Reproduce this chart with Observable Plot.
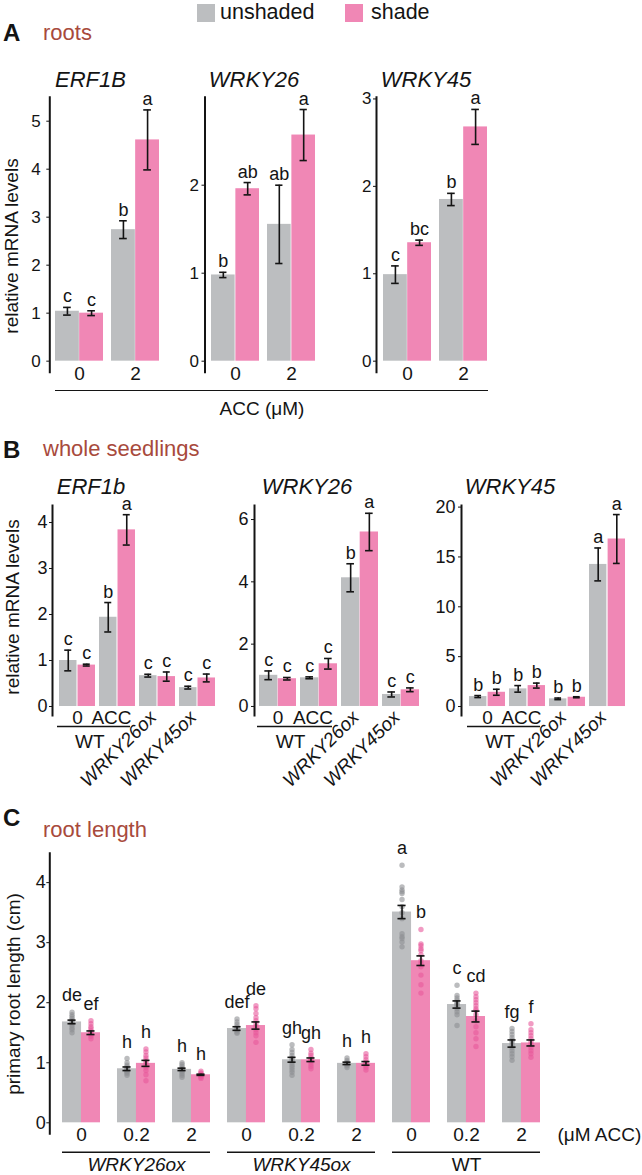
<!DOCTYPE html>
<html><head><meta charset="utf-8">
<script src="https://cdn.jsdelivr.net/npm/d3@7"></script>
<script src="https://cdn.jsdelivr.net/npm/@observablehq/plot@0.6"></script>
<style>
body{margin:0;background:#fff;}
#fig{position:relative;width:642px;height:1175px;font-family:"Liberation Sans",Arial,Helvetica,sans-serif;color:#141414;overflow:hidden;background:#fff;}
.abs{position:absolute;white-space:nowrap;}
</style></head><body><div id="fig"></div>
<script>
// ---------- colours ----------
const GREY = "#bcbec0", PINK = "#f087b5", BROWN = "#a84a3c", DOTG = "#8e9092", DOTP = "#e8589b", INK = "#141414";
const FONT = '"Liberation Sans", Arial, Helvetica, sans-serif';

// ---------- Panel A : roots ----------
const aDoses = ["0", "2"];
const aERF1B_unshaded = [1.04, 2.74], aERF1B_unshadedSE = [0.08, 0.185];
const aERF1B_shade = [1.00, 4.61], aERF1B_shadeSE = [0.05, 0.625];
const aERF1B_lettersU = ["c", "b"], aERF1B_lettersS = ["c", "a"];
const aWRKY26_unshaded = [0.98, 1.555], aWRKY26_unshadedSE = [0.03, 0.445];
const aWRKY26_shade = [1.96, 2.57], aWRKY26_shadeSE = [0.07, 0.29];
const aWRKY26_lettersU = ["b", "ab"], aWRKY26_lettersS = ["ab", "a"];
const aWRKY45_unshaded = [0.99, 1.85], aWRKY45_unshadedSE = [0.10, 0.07];
const aWRKY45_shade = [1.355, 2.68], aWRKY45_shadeSE = [0.03, 0.20];
const aWRKY45_lettersU = ["c", "b"], aWRKY45_lettersS = ["bc", "a"];

// ---------- Panel B : whole seedlings ----------
const bGroups = ["WT 0", "WT ACC", "WRKY26ox", "WRKY45ox"];
const bERF1b_unshaded = [1.00, 1.94, 0.67, 0.41], bERF1b_unshadedSE = [0.225, 0.32, 0.03, 0.03];
const bERF1b_shade = [0.90, 3.84, 0.65, 0.62], bERF1b_shadeSE = [0.02, 0.33, 0.10, 0.085];
const bERF1b_lettersU = ["c", "b", "c", "c"], bERF1b_lettersS = ["c", "a", "c", "c"];
const bWRKY26_unshaded = [1.00, 0.92, 4.13, 0.385], bWRKY26_unshadedSE = [0.14, 0.03, 0.45, 0.08];
const bWRKY26_shade = [0.89, 1.37, 5.60, 0.535], bWRKY26_shadeSE = [0.04, 0.17, 0.60, 0.06];
const bWRKY26_lettersU = ["c", "c", "b", "c"], bWRKY26_lettersS = ["c", "c", "a", "c"];
const bWRKY45_unshaded = [1.00, 1.77, 0.77, 14.25], bWRKY45_unshadedSE = [0.10, 0.33, 0.08, 1.65];
const bWRKY45_shade = [1.43, 2.10, 0.93, 16.8], bWRKY45_shadeSE = [0.30, 0.25, 0.05, 2.45];
const bWRKY45_lettersU = ["b", "b", "b", "a"], bWRKY45_lettersS = ["b", "b", "b", "a"];

// ---------- Panel C : root length ----------
const cGenotypes = ["WRKY26ox", "WRKY45ox", "WT"];
const cDoses = ["0", "0.2", "2"];
const cUnshaded = [1.68, 0.90, 0.89, 1.57, 1.05, 0.99, 3.51, 1.97, 1.32];
const cUnshadedSE = [0.03, 0.03, 0.02, 0.03, 0.04, 0.02, 0.11, 0.06, 0.06];
const cShade = [1.50, 0.99, 0.80, 1.62, 1.05, 0.99, 2.70, 1.77, 1.33];
const cShadeSE = [0.03, 0.05, 0.01, 0.06, 0.03, 0.03, 0.08, 0.09, 0.05];
const cLettersU = ["de", "h", "h", "def", "gh", "h", "a", "c", "fg"];
const cLettersS = ["ef", "h", "h", "de", "gh", "h", "b", "cd", "f"];
const cDotsUnshaded = [
  [1.84, 1.80, 1.77, 1.74, 1.71, 1.68, 1.65, 1.62, 1.58, 1.55, 1.50],
  [1.07, 1.00, 0.96, 0.93, 0.90, 0.88, 0.86, 0.84, 0.82, 0.79],
  [1.00, 0.97, 0.94, 0.91, 0.89, 0.87, 0.85, 0.82, 0.79, 0.76],
  [1.73, 1.68, 1.64, 1.60, 1.57, 1.54, 1.51, 1.49],
  [1.30, 1.22, 1.17, 1.12, 1.08, 1.04, 1.00, 0.96, 0.92, 0.88, 0.84, 0.79],
  [1.08, 1.04, 1.01, 0.99, 0.97, 0.95, 0.92],
  [4.29, 3.93, 3.88, 3.85, 3.82, 3.72, 3.60, 3.50, 3.40, 3.15, 3.10, 3.07, 3.01, 2.93],
  [2.29, 2.12, 2.08, 2.04, 2.00, 1.98, 1.95, 1.90, 1.85, 1.80, 1.62],
  [1.57, 1.52, 1.47, 1.42, 1.38, 1.35, 1.30, 1.25, 1.20, 1.15, 1.10, 1.04]
];
const cDotsShade = [
  [1.70, 1.65, 1.60, 1.57, 1.53, 1.50, 1.47, 1.44, 1.40],
  [1.23, 1.18, 1.12, 1.08, 1.04, 1.00, 0.96, 0.92, 0.87, 0.80, 0.70],
  [0.86, 0.83, 0.81, 0.79, 0.78, 0.76, 0.74],
  [1.95, 1.90, 1.82, 1.75, 1.70, 1.65, 1.60, 1.55, 1.50, 1.45, 1.34],
  [1.22, 1.16, 1.12, 1.08, 1.05, 1.02, 0.98, 0.94, 0.90],
  [1.15, 1.10, 1.05, 1.01, 0.98, 0.95, 0.92, 0.88],
  [3.22, 2.98, 2.95, 2.90, 2.87, 2.80, 2.70, 2.65, 2.60, 2.46, 2.30, 2.16],
  [2.16, 2.10, 2.05, 2.00, 1.95, 1.90, 1.87, 1.80, 1.70, 1.60, 1.50, 1.40, 1.27],
  [1.65, 1.55, 1.50, 1.45, 1.40, 1.35, 1.30, 1.25, 1.20, 1.15, 1.09]
];

// ---------- helpers ----------
const fig = document.getElementById("fig");
function txt(s, o) {
  const d = document.createElement("div");
  d.className = "abs";
  d.textContent = s;
  d.style.fontSize = o.size + "px";
  d.style.lineHeight = o.size + "px";
  d.style.top = (o.y - 0.8465 * o.size) + "px";
  d.style.left = o.x + "px";
  if (o.anchor === "middle") d.style.transform = "translateX(-50%)";
  if (o.italic) d.style.fontStyle = "italic";
  if (o.bold) d.style.fontWeight = "bold";
  if (o.color) d.style.color = o.color;
  fig.appendChild(d);
}
function vtxt(s, cx, cy, size) {
  const d = document.createElement("div");
  d.className = "abs";
  d.textContent = s;
  d.style.fontSize = size + "px";
  d.style.lineHeight = size + "px";
  d.style.left = cx + "px";
  d.style.top = cy + "px";
  d.style.transform = "translate(-50%,-50%) rotate(-90deg)";
  fig.appendChild(d);
}
function box(x, y, w, h, color) {
  const d = document.createElement("div");
  d.className = "abs";
  Object.assign(d.style, {left: x + "px", top: y + "px", width: w + "px", height: h + "px", background: color});
  fig.appendChild(d);
}
function hline(x, y, w) {
  const d = document.createElement("div");
  d.className = "abs";
  Object.assign(d.style, {left: x + "px", top: y + "px", width: w + "px", height: "0px", borderTop: "1.6px solid " + INK});
  fig.appendChild(d);
}
function table(groups, u, use, ul, s, sse, sl, dotsU, dotsS) {
  const rows = [], dots = [];
  groups.forEach((g, i) => {
    const du = dotsU ? dotsU[i] : [], ds = dotsS ? dotsS[i] : [];
    du.forEach(v => dots.push({g, s: "unshaded", v}));
    ds.forEach(v => dots.push({g, s: "shade", v}));
    rows.push({g, s: "unshaded", v: u[i], se: use[i], lab: ul[i], top: Math.max(u[i] + use[i], ...du)});
    rows.push({g, s: "shade", v: s[i], se: sse[i], lab: sl[i], top: Math.max(s[i] + sse[i], ...ds)});
  });
  return {rows, dots};
}

function subplot(row, cfg) {
  const band = d3.scaleBand().domain(cfg.groups).range(cfg.range).paddingInner(cfg.pad).paddingOuter(0);
  const bw = band.bandwidth(), step = band.step();
  const U = cfg.data.rows.filter(d => d.s === "unshaded"), S = cfg.data.rows.filter(d => d.s === "shade");
  const off = bw / 4, cap = 4, sw = 1.6;
  const marks = [
    Plot.barY(U, {x: "g", y: "v", fill: GREY, insetRight: bw / 2}),
    Plot.barY(S, {x: "g", y: "v", fill: PINK, insetLeft: bw / 2})
  ];
  if (cfg.data.dots.length) {
    marks.push(Plot.dot(cfg.data.dots.filter(d => d.s === "unshaded"), {x: "g", y: "v", r: 2.7, fill: DOTG, fillOpacity: 0.6, dx: -off}));
    marks.push(Plot.dot(cfg.data.dots.filter(d => d.s === "shade"), {x: "g", y: "v", r: 2.7, fill: DOTP, fillOpacity: 0.6, dx: off}));
  }
  for (const [D, sign] of [[U, -1], [S, 1]]) {
    const il = sign < 0 ? off - cap : 3 * off - cap;
    const ir = sign < 0 ? 3 * off - cap : off - cap;
    marks.push(
      Plot.ruleX(D, {x: "g", y1: d => d.v - d.se, y2: d => d.v + d.se, dx: sign * off, stroke: INK, strokeWidth: sw}),
      Plot.tickY(D, {x: "g", y: d => d.v + d.se, insetLeft: il, insetRight: ir, stroke: INK, strokeWidth: sw}),
      Plot.tickY(D, {x: "g", y: d => d.v - d.se, insetLeft: il, insetRight: ir, stroke: INK, strokeWidth: sw}),
      Plot.text(D, {x: "g", y: "top", text: "lab", dx: sign * off, dy: -cfg.letterGap, lineAnchor: "bottom", fontSize: cfg.letterFont, fill: INK})
    );
  }
  marks.push(Plot.frame({anchor: "left", stroke: INK, strokeWidth: 2}));
  marks.push(Plot.axisY(cfg.yTicks, {tickSize: 3, tickPadding: cfg.tickPad, tickFormat: d => String(d), fontSize: cfg.tickFont, label: null, stroke: INK, fill: INK}));
  if (cfg.extra) marks.push(...cfg.extra(bw, step));
  const svg = Plot.plot({
    width: 642, height: row.height,
    marginLeft: cfg.axisX, marginRight: 642 - cfg.range[1],
    marginTop: cfg.top - row.top, marginBottom: row.top + row.height - cfg.bottom,
    x: {type: "band", domain: cfg.groups, range: cfg.range, paddingInner: cfg.pad, paddingOuter: 0, axis: null},
    y: {domain: cfg.yDomain},
    style: {background: "transparent", overflow: "visible", fontFamily: FONT, fontSize: "17px", color: INK,
            position: "absolute", left: "0px", top: row.top + "px", maxWidth: "none"},
    marks
  });
  fig.appendChild(svg);
}

// ---------- legend & headers ----------
box(197, 4, 18, 18, GREY); txt("unshaded", {x: 220, y: 20.5, size: 21.5});
box(345, 4, 18, 18, PINK); txt("shade", {x: 371, y: 20.5, size: 21.5});
txt("A", {x: 3, y: 41.5, size: 24, bold: true}); txt("roots", {x: 43, y: 40.5, size: 22, color: BROWN});
txt("B", {x: 3, y: 458, size: 24, bold: true}); txt("whole seedlings", {x: 43, y: 457, size: 22, color: BROWN});
txt("C", {x: 3, y: 826.5, size: 24, bold: true}); txt("root length", {x: 43, y: 838, size: 22, color: BROWN});

// ---------- Panel A ----------
const rowA = {top: 85, height: 330};
const aTitles = [["ERF1B", 90.5], ["WRKY26", 254], ["WRKY45", 426]];
aTitles.forEach(([t, x]) => txt(t, {x, y: 87.3, size: 22, italic: true, anchor: "middle"}));
const aX = () => [Plot.text(aDoses, {x: d => d, text: d => d, frameAnchor: "bottom", lineAnchor: "middle", dy: 2, fontSize: 19, fill: INK})];
subplot(rowA, {groups: aDoses, range: [55.3, 159.8], pad: 0.14, axisX: 49.3, top: 96.7, bottom: 371.7,
  yDomain: [-0.23, 5.5], yTicks: [0, 1, 2, 3, 4, 5], tickPad: 6, tickFont: 17, letterFont: 18, letterGap: 5,
  data: table(aDoses, aERF1B_unshaded, aERF1B_unshadedSE, aERF1B_lettersU, aERF1B_shade, aERF1B_shadeSE, aERF1B_lettersS), extra: aX});
subplot(rowA, {groups: aDoses, range: [210.2, 315.6], pad: 0.14, axisX: 204.5, top: 96.7, bottom: 371.7,
  yDomain: [-0.125, 3.0], yTicks: [0, 1, 2], tickPad: 3, tickFont: 17, letterFont: 18, letterGap: 5,
  data: table(aDoses, aWRKY26_unshaded, aWRKY26_unshadedSE, aWRKY26_lettersU, aWRKY26_shade, aWRKY26_shadeSE, aWRKY26_lettersS), extra: aX});
subplot(rowA, {groups: aDoses, range: [382.4, 487], pad: 0.14, axisX: 376, top: 96.7, bottom: 371.7,
  yDomain: [-0.126, 3.02], yTicks: [0, 1, 2, 3], tickPad: 2, tickFont: 17, letterFont: 18, letterGap: 5,
  data: table(aDoses, aWRKY45_unshaded, aWRKY45_unshadedSE, aWRKY45_lettersU, aWRKY45_shade, aWRKY45_shadeSE, aWRKY45_lettersS), extra: aX});
hline(55, 390, 433);
txt("ACC (μM)", {x: 262, y: 415, size: 19, anchor: "middle"});
vtxt("relative mRNA levels", 11, 246, 19);

// ---------- Panel B ----------
const rowB = {top: 495, height: 300};
[["ERF1b", 91], ["WRKY26", 307], ["WRKY45", 510]].forEach(([t, x]) => txt(t, {x, y: 495, size: 22, italic: true, anchor: "middle"}));
const bX = (lo) => (bw, step) => [
  Plot.text(["0"], {x: () => "WT 0", text: d => d, frameAnchor: "bottom", lineAnchor: "bottom", dy: 8, fontSize: 19, fill: INK}),
  Plot.text(["ACC"], {x: () => "WT ACC", text: d => d, frameAnchor: "bottom", lineAnchor: "bottom", dy: 8, dx: -6, fontSize: 19, fill: INK}),
  Plot.ruleY([lo], {x1: () => "WT 0", x2: () => "WT ACC", dy: 11, insetLeft: -2, insetRight: 5, stroke: INK, strokeWidth: 1.6}),
  Plot.text(["WT"], {x: () => "WT 0", text: d => d, frameAnchor: "bottom", lineAnchor: "bottom", dy: 32, dx: step / 2 - 8, fontSize: 19, fill: INK}),
  Plot.text(["WRKY26ox", "WRKY45ox"], {x: d => d, text: d => d, frameAnchor: "bottom", rotate: -45, textAnchor: "end", lineAnchor: "bottom", dy: 3, fontSize: 19, fontStyle: "italic", fill: INK})
];
subplot(rowB, {groups: bGroups, range: [57.7, 216.7], pad: 0.09, axisX: 52, top: 505, bottom: 715,
  yDomain: [-0.196, 4.37], yTicks: [0, 1, 2, 3, 4], tickPad: 2, tickFont: 18, letterFont: 18, letterGap: 5,
  data: table(bGroups, bERF1b_unshaded, bERF1b_unshadedSE, bERF1b_lettersU, bERF1b_shade, bERF1b_shadeSE, bERF1b_lettersS), extra: bX(-0.196)});
subplot(rowB, {groups: bGroups, range: [258.7, 419.3], pad: 0.09, axisX: 254, top: 505, bottom: 715,
  yDomain: [-0.29, 6.45], yTicks: [0, 2, 4, 6], tickPad: 3, tickFont: 18, letterFont: 18, letterGap: 5,
  data: table(bGroups, bWRKY26_unshaded, bWRKY26_unshadedSE, bWRKY26_lettersU, bWRKY26_shade, bWRKY26_shadeSE, bWRKY26_lettersS), extra: bX(-0.29)});
subplot(rowB, {groups: bGroups, range: [467, 627], pad: 0.09, axisX: 461, top: 505, bottom: 715,
  yDomain: [-0.9, 20.16], yTicks: [0, 5, 10, 15, 20], tickPad: 3, tickFont: 18, letterFont: 18, letterGap: 5,
  data: table(bGroups, bWRKY45_unshaded, bWRKY45_unshadedSE, bWRKY45_lettersU, bWRKY45_shade, bWRKY45_shadeSE, bWRKY45_lettersS), extra: bX(-0.9)});
vtxt("relative mRNA levels", 11.5, 607, 19);

// ---------- Panel C ----------
const rowC = {top: 840, height: 335};
const cGroups = cGenotypes.flatMap(g => cDoses.map(d => g + "|" + d));
const cLo = -0.183;
subplot(rowC, {groups: cGroups, range: [60.7, 541], pad: 0.315, axisX: 49.3, top: 852.7, bottom: 1133.3,
  yDomain: [cLo, 4.49], yTicks: [0, 1, 2, 3, 4], tickPad: 1, tickFont: 18, letterFont: 18, letterGap: 11,
  data: table(cGroups, cUnshaded, cUnshadedSE, cLettersU, cShade, cShadeSE, cLettersS, cDotsUnshaded, cDotsShade),
  extra: (bw, step) => [
    Plot.text(cGroups, {x: d => d, text: d => d.split("|")[1], frameAnchor: "bottom", lineAnchor: "middle", dy: 1, fontSize: 19, fill: INK}),
    Plot.ruleY(cGenotypes, {y: () => cLo, x1: g => g + "|0", x2: g => g + "|2", dy: 18.4, stroke: INK, strokeWidth: 1.6}),
    Plot.text(cGenotypes.filter(g => g !== "WT"), {x: g => g + "|0.2", text: d => d, frameAnchor: "bottom", lineAnchor: "middle", dy: 31.5, fontSize: 19, fontStyle: "italic", fill: INK}),
    Plot.text(cGenotypes.filter(g => g === "WT"), {x: g => g + "|0.2", text: d => d, frameAnchor: "bottom", lineAnchor: "middle", dy: 31.5, fontSize: 19, fill: INK}),
    Plot.text(["(μM ACC)"], {text: d => d, frameAnchor: "bottom-right", textAnchor: "start", lineAnchor: "middle", dx: 16, dy: 1, fontSize: 19, fill: INK})
  ]});
vtxt("primary root length (cm)", 12.5, 993.5, 19);
</script></body></html>
